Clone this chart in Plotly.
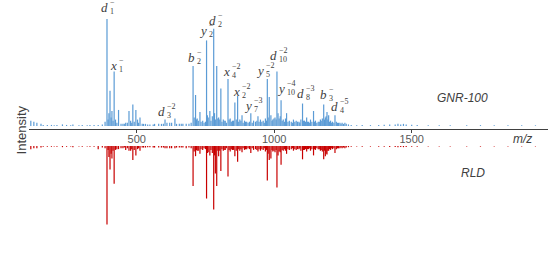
import plotly.graph_objects as go

############################# data

# main peak m/z values (same grid for both spectra)
peak_mz = [
    115, 126, 137, 152, 160, 175, 190, 200, 210, 230,
    245, 260, 268, 290, 302, 320, 330, 345, 360, 375,
    392, 403, 410, 418, 434, 450, 460, 472, 486, 497,
    512, 520, 540, 560, 580, 603, 620, 639, 655, 680,
    705, 714, 720, 730, 740, 754, 760, 766, 775, 780,
    786, 791, 798, 806, 815, 822, 832, 840, 848, 857,
    867, 875, 883, 892, 900, 915, 925, 932, 941, 950,
    960, 968, 975, 982, 988, 995, 1003, 1010, 1018, 1025,
    1033, 1045, 1055, 1062, 1070, 1080, 1090, 1097, 1103, 1110,
    1118, 1125, 1132, 1143, 1150, 1160, 1168, 1175, 1180, 1186,
    1192, 1198, 1205, 1212, 1221, 1230, 1239, 1247, 1257, 1280,
    1300, 1320, 1350, 1380, 1400, 1420, 1440, 1450, 1460, 1470,
    1480, 1500, 1520, 1560, 1600, 1640, 1700, 1750, 1800, 1850,
    1900, 1950,
]

# relative intensity (%) - GNR-100 (top)
gnr_int = [
    5, 4, 3, 2, 1, 1, 1, 0.8, 1, 1.5,
    1, 0.8, 1.5, 0.8, 1, 0.8, 1, 1, 1, 1.5,
    100, 33, 14, 51, 15, 2, 3, 14, 20, 15,
    8, 2, 1.5, 1.5, 2, 6, 3, 7, 2, 2,
    56, 29, 7, 13, 5, 80, 8, 14, 9, 91,
    6, 56, 8, 35, 6, 5, 44, 7, 5, 22,
    28, 6, 10, 5, 4, 12, 5, 4, 9, 6,
    5, 7, 44, 27, 10, 6, 8, 51, 7, 24,
    6, 12, 5, 4, 6, 5, 4, 6, 21, 5,
    8, 4, 6, 14, 5, 4, 6, 7, 20, 8,
    13, 10, 5, 4, 10, 3, 3, 3, 3, 1,
    0.8, 1, 0.8, 1, 1.2, 1.5, 1.5, 2, 1.5, 2,
    1.5, 1.2, 1, 0.8, 0.8, 0.8, 0.6, 0.8, 0.6, 0.6,
    0.6, 0.6,
]

# relative intensity (%) - RLD (bottom, mirrored)
rld_int = [
    4, 3, 3, 2, 1, 1, 1, 0.8, 1, 1.5,
    1, 0.8, 1.5, 0.8, 1, 0.8, 1, 1, 4, 2,
    100, 30, 16, 48, 4, 3, 5, 6, 18, 12,
    6, 2, 1.5, 2, 2, 3, 3, 3, 2, 3,
    51, 13, 6, 10, 5, 67, 8, 12, 9, 81,
    35, 51, 13, 32, 6, 5, 39, 7, 5, 13,
    20, 6, 8, 5, 4, 9, 5, 4, 7, 6,
    5, 7, 44, 18, 16, 7, 8, 53, 7, 24,
    6, 10, 5, 4, 6, 5, 4, 6, 17, 5,
    7, 4, 6, 12, 5, 4, 6, 7, 17, 13,
    11, 6, 5, 4, 9, 3, 3, 3, 3, 1,
    0.8, 1, 0.8, 1, 1, 1.2, 1.2, 1.5, 1.2, 1.5,
    1.2, 1, 1, 0.8, 0.8, 0.8, 0.6, 0.8, 0.6, 0.6,
    0.6, 0.6,
]

# small peaks filling the busy 380-1270 region
minor_mz = [
    385, 396, 399, 407, 414, 423, 428, 443, 455, 466,
    478, 482, 491, 503, 507, 525, 532, 548, 565, 590,
    597, 610, 627, 645, 662, 668, 690, 698, 709, 717,
    724, 734, 745, 750, 757, 770, 783, 795, 802, 810,
    818, 826, 836, 844, 852, 862, 871, 879, 887, 896,
    905, 910, 920, 937, 945, 955, 964, 972, 978, 992,
    999, 1007, 1014, 1022, 1029, 1038, 1041, 1050, 1066, 1075,
    1085, 1093, 1107, 1114, 1121, 1129, 1137, 1147, 1155, 1164,
    1171, 1183, 1189, 1195, 1201, 1209, 1217, 1226, 1234, 1243,
    1252, 1262, 1270,
]
gnr_minor = [
    4, 6, 12, 8, 5, 6, 3, 2, 2, 3,
    5, 3, 4, 6, 3, 2, 2, 1.5, 2, 2,
    2, 3, 3, 2, 2, 2, 2, 3, 8, 6,
    5, 4, 3, 4, 10, 5, 12, 7, 6, 4,
    5, 3, 6, 4, 5, 6, 4, 5, 3, 4,
    3, 4, 3, 5, 4, 4, 3, 5, 8, 5,
    7, 6, 12, 9, 5, 4, 7, 4, 3, 4,
    4, 3, 5, 4, 4, 3, 4, 4, 3, 4,
    5, 6, 9, 6, 4, 3, 3, 4, 3, 2,
    2, 2, 1.5,
]
rld_minor = [
    3, 5, 14, 10, 6, 5, 4, 3, 2, 3,
    6, 4, 5, 4, 3, 2, 2, 1.5, 2, 2,
    2, 3, 3, 2, 2, 2, 2, 3, 7, 5,
    6, 4, 3, 4, 9, 5, 12, 6, 6, 4,
    5, 3, 5, 4, 5, 6, 4, 4, 3, 4,
    3, 4, 3, 5, 4, 4, 3, 5, 10, 5,
    6, 5, 12, 8, 5, 4, 6, 4, 3, 4,
    4, 3, 5, 4, 4, 3, 4, 4, 3, 4,
    5, 6, 10, 6, 4, 3, 3, 4, 3, 2,
    2, 2, 1.5,
]

# fragment ion labels on the top spectrum
ion_letter = ['d', 'x', 'd', 'b', 'y', 'd', 'x', 'x', 'y', 'y', 'd', 'y', 'd', 'b', 'd']
ion_sub = ['1', '1', '3', '2', '2', '2', '4', '2', '7', '5', '10', '10', '8', '3', '4']
ion_charge = ['−', '−', '−2', '−', '−', '−', '−2', '−2', '−3', '−2', '−2', '−4', '−3', '−', '−5']
label_mz = [399, 432, 606, 714, 759, 792, 843, 879, 923, 966, 1014, 1043, 1112, 1196, 1236]
label_int = [111, 57, 14, 64, 89, 99, 51, 32, 19, 52, 66, 35, 30, 29, 18]

############################# helpers

def sticks(mz, inten):
    # turn peak list into a stick spectrum (vertical lines from 0)
    xs, ys = [], []
    for m, i in zip(mz, inten):
        xs += [m, m, None]
        ys += [0, i, None]
    return xs, ys

############################# figure

fig = go.Figure()

gx, gy = sticks(minor_mz + peak_mz, gnr_minor + gnr_int)
fig.add_trace(go.Scatter(x=gx, y=gy, mode='lines', line=dict(color='#5B9BD5', width=1.2),
                         xaxis='x', yaxis='y', hoverinfo='skip', cliponaxis=False))

rx, ry = sticks(minor_mz + peak_mz, rld_minor + rld_int)
fig.add_trace(go.Scatter(x=rx, y=ry, mode='lines', line=dict(color='#C80000', width=1.2),
                         xaxis='x', yaxis='y2', hoverinfo='skip', cliponaxis=False))

lab_font = dict(family='Liberation Serif', size=13, color='#404040')
small_font = dict(family='Liberation Serif', size=8, color='#404040')
for let, sb, ch, m, i in zip(ion_letter, ion_sub, ion_charge, label_mz, label_int):
    fig.add_annotation(x=m, y=i, xref='x', yref='y', text=f'<i>{let}</i>', showarrow=False,
                       xanchor='right', yanchor='middle', font=lab_font, borderpad=0)
    fig.add_annotation(x=m, y=i, xref='x', yref='y', text=sb, showarrow=False,
                       xanchor='left', yanchor='middle', yshift=-4, font=small_font, borderpad=0)
    fig.add_annotation(x=m, y=i, xref='x', yref='y', text=ch, showarrow=False,
                       xanchor='left', yanchor='middle', yshift=5, font=small_font, borderpad=0)

txt_font = dict(family='Liberation Sans', size=12, color='#404040')
fig.add_annotation(x=0.888, y=0.616, xref='paper', yref='paper', text='<i>GNR-100</i>',
                   showarrow=False, font=txt_font)
fig.add_annotation(x=0.882, y=0.286, xref='paper', yref='paper', text='<i>RLD</i>',
                   showarrow=False, font=txt_font)
fig.add_annotation(x=0.973, y=0.455, xref='paper', yref='paper', text='<i>m/z</i>',
                   showarrow=False, font=txt_font)
fig.add_annotation(x=-0.033, y=0.49, xref='paper', yref='paper', text='Intensity',
                   textangle=-90, showarrow=False, font=dict(family='Liberation Sans', size=13, color='#404040'))

fig.update_layout(
    width=550, height=255,
    margin=dict(l=29, r=2, t=0, b=0, autoexpand=False),
    plot_bgcolor='white', paper_bgcolor='white',
    showlegend=False,
    xaxis=dict(domain=[0, 1], range=[108.4, 1995.6], anchor='free', position=0.494,
               showline=True, linecolor='#404040', linewidth=1.2,
               ticks='outside', ticklen=3, tickcolor='#404040',
               tick0=0, dtick=500, showgrid=False, zeroline=False,
               ticklabelstandoff=-3,
               tickfont=dict(family='Liberation Sans', size=11, color='#595959')),
    yaxis=dict(domain=[0.5059, 1], range=[0, 117.8], visible=False),
    yaxis2=dict(domain=[0, 0.4275], range=[139, 0], visible=False, anchor='x'),
)

# page has a default body margin; drop it so the figure sits at the window corner
fig.write_html("out.html", config={'displayModeBar': False},
               post_script="document.body.style.margin='0';")
